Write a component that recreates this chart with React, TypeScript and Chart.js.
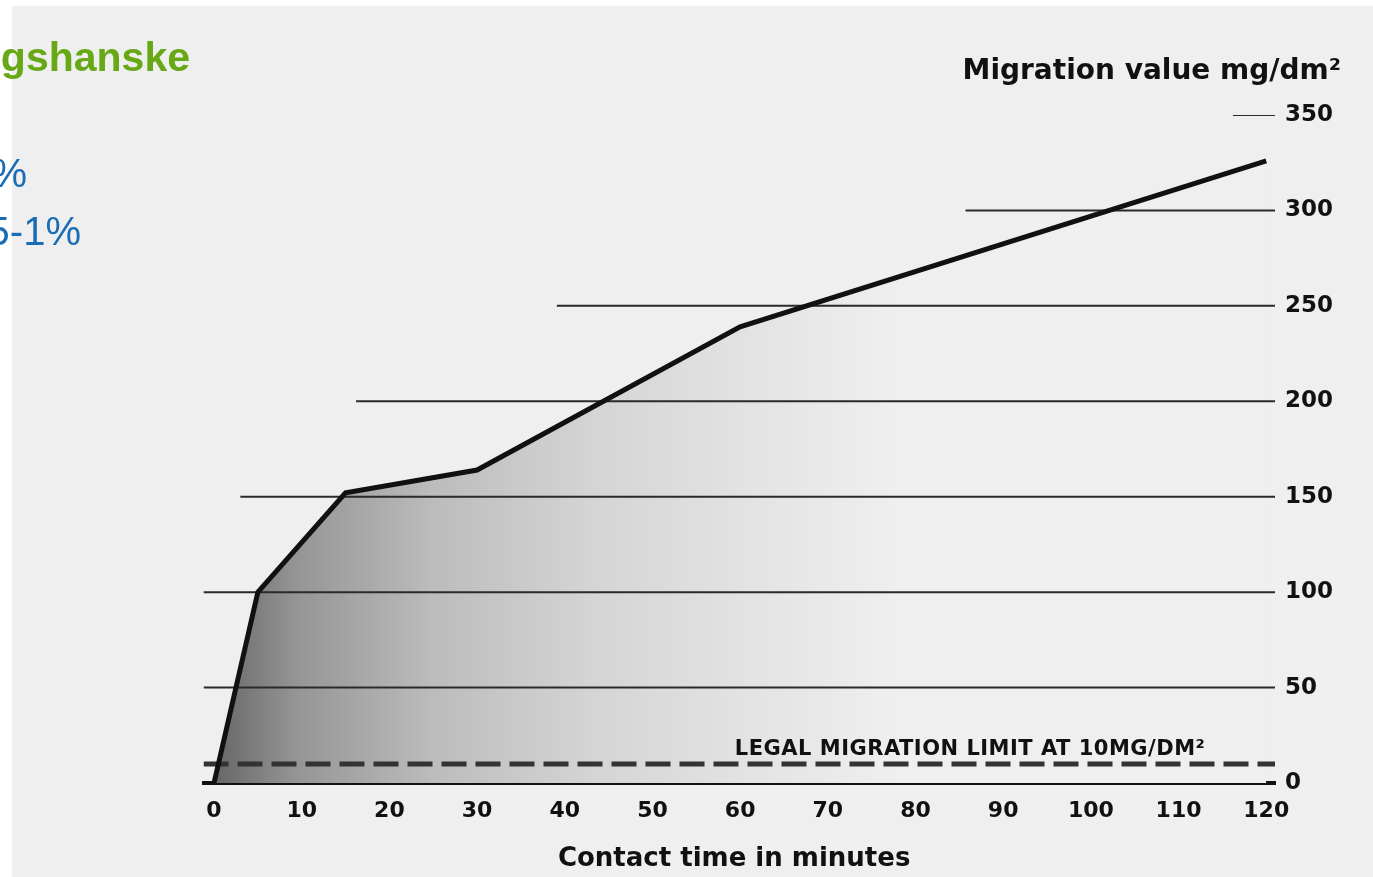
import React, { useEffect, useRef } from 'react';
import { Chart, registerables } from 'chart.js';

Chart.register(...registerables);

// ---- data ----
const timeMinutes = [0, 5, 15, 30, 60, 120];
const migrationValues = [0, 100, 152, 164, 239, 326];
const xTickValues = [0, 10, 20, 30, 40, 50, 60, 70, 80, 90, 100, 110, 120];
const yTickValues = [0, 50, 100, 150, 200, 250, 300, 350];
const gridValues = [50, 100, 150, 200, 250, 300, 350];
const gridStartMinutes = [-1.2, -1.2, 3, 16.2, 39.1, 85.7, 116.2];
const legalLimit = 10;
const xMin = -1.2;
const xMax = 121;
const yMin = 0;
const yMax = 350;

const yTitle = 'Migration value mg/dm²';
const xTitle = 'Contact time in minutes';
const legalLabel = 'LEGAL MIGRATION LIMIT AT 10MG/DM²';
const headingGreen = 'ngshanske';
const blueLines = ['%', '5-1%'];

const textPlugin = {
  id: 'textPlugin',
  afterDraw(chart: any) {
    const ctx = chart.ctx as CanvasRenderingContext2D;
    const xs = chart.scales.x;
    const ys = chart.scales.y;
    ctx.save();
    ctx.fillStyle = '#111';
    ctx.textBaseline = 'alphabetic';
    // y title
    ctx.font = 'bold 28px "DejaVu Sans"';
    ctx.textAlign = 'right';
    ctx.fillText(yTitle, 1341, 79);
    // x title
    ctx.font = 'bold 26px "DejaVu Sans"';
    ctx.textAlign = 'center';
    ctx.fillText(xTitle, (xs.getPixelForValue(0) + xs.getPixelForValue(120)) / 2 - 6, 866);
    // legal label
    ctx.font = 'bold 21px "DejaVu Sans"';
    (ctx as any).letterSpacing = '0.5px';
    ctx.textAlign = 'left';
    ctx.fillText(legalLabel, xs.getPixelForValue(59.4), ys.getPixelForValue(legalLimit) - 9, 477);
    (ctx as any).letterSpacing = '0px';
    ctx.restore();
  },
};

export default function App() {
  const canvasRef = useRef<HTMLCanvasElement | null>(null);

  useEffect(() => {
    const canvas = canvasRef.current;
    if (!canvas) return;

    const fillGradient = (c: any) => {
      const chart = c.chart;
      if (!chart.chartArea) return '#aaaaaa';
      const xs = chart.scales.x;
      const x0 = xs.getPixelForValue(0);
      const x1 = xs.getPixelForValue(78);
      const g = chart.ctx.createLinearGradient(x0, 0, x1, 0);
      g.addColorStop(0, '#666666');
      g.addColorStop(0.12, '#959595');
      g.addColorStop(0.32, '#bcbcbc');
      g.addColorStop(0.56, '#d5d5d5');
      g.addColorStop(0.8, '#e4e4e4');
      g.addColorStop(1, '#efefef');
      return g;
    };

    const gridDatasets = gridValues.map((v, i) => ({
      label: 'grid' + v,
      data: [
        { x: gridStartMinutes[i], y: v },
        { x: xMax, y: v },
      ],
      borderColor: '#2a2a2a',
      borderWidth: 2,
      pointRadius: 0,
      fill: false,
    }));

    const chart = new Chart(canvas, {
      type: 'line',
      data: {
        datasets: [
          {
            label: 'Migration',
            data: timeMinutes.map((t, i) => ({ x: t, y: migrationValues[i] })),
            borderColor: '#111111',
            borderWidth: 5,
            pointRadius: 0,
            tension: 0,
            fill: 'origin',
            backgroundColor: fillGradient,
          },
          {
            label: 'Legal limit',
            data: [
              { x: xMin, y: legalLimit },
              { x: xMax, y: legalLimit },
            ],
            borderColor: '#333333',
            borderWidth: 5,
            borderDash: [25, 9],
            pointRadius: 0,
            fill: false,
          },
          ...gridDatasets,
        ],
      },
      options: {
        responsive: false,
        animation: false,
        events: [],
        layout: { padding: { left: 203.5, top: 115, right: 0, bottom: 0 } },
        plugins: {
          legend: { display: false },
          tooltip: { enabled: false },
          filler: { drawTime: 'beforeDatasetsDraw' },
        },
        scales: {
          x: {
            type: 'linear',
            min: xMin,
            max: xMax,
            afterBuildTicks: (scale: any) => {
              scale.ticks = xTickValues.map((v) => ({ value: v }));
            },
            afterFit: (scale: any) => {
              scale.height = 94;
            },
            grid: { display: false, drawTicks: false },
            border: { display: true, width: 4, color: '#111111' },
            ticks: {
              autoSkip: false,
              maxRotation: 0,
              padding: 15,
              color: '#111111',
              font: { family: '"DejaVu Sans"', weight: 'bold', size: 22 },
            },
          },
          y: {
            type: 'linear',
            position: 'right',
            min: yMin,
            max: yMax,
            afterBuildTicks: (scale: any) => {
              scale.ticks = yTickValues.map((v) => ({ value: v }));
            },
            afterFit: (scale: any) => {
              scale.width = 98;
            },
            grid: { display: false, drawTicks: false },
            border: { display: false },
            ticks: {
              autoSkip: false,
              padding: 10,
              color: '#111111',
              font: { family: '"DejaVu Sans"', weight: 'bold', size: 23 },
            },
          },
        },
      } as any,
      plugins: [textPlugin],
    });

    return () => chart.destroy();
  }, []);

  return (
    <div
      style={{
        position: 'absolute',
        left: 0,
        top: 0,
        width: 1373,
        height: 877,
        overflow: 'hidden',
        background: '#ffffff',
      }}
    >
      <div
        style={{
          position: 'absolute',
          left: 12,
          top: 6,
          right: 0,
          bottom: 0,
          background: '#efefef',
        }}
      />
      <canvas
        ref={canvasRef}
        width={1373}
        height={877}
        style={{ position: 'absolute', left: 0, top: 0 }}
      />
      <div
        style={{
          position: 'absolute',
          right: 1373 - 190,
          top: 37,
          whiteSpace: 'nowrap',
          font: 'bold 41px "Liberation Sans", Arial, sans-serif',
          lineHeight: '41px',
          color: '#66a915',
        }}
      >
        {headingGreen}
      </div>
      <div
        style={{
          position: 'absolute',
          right: 1373 - 27,
          top: 153,
          whiteSpace: 'nowrap',
          font: '40px "Liberation Sans", Arial, sans-serif',
          lineHeight: '40px',
          color: '#1a6db5',
        }}
      >
        {blueLines[0]}
      </div>
      <div
        style={{
          position: 'absolute',
          right: 1373 - 81,
          top: 211,
          whiteSpace: 'nowrap',
          font: '40px "Liberation Sans", Arial, sans-serif',
          lineHeight: '40px',
          color: '#1a6db5',
        }}
      >
        {blueLines[1]}
      </div>
    </div>
  );
}
